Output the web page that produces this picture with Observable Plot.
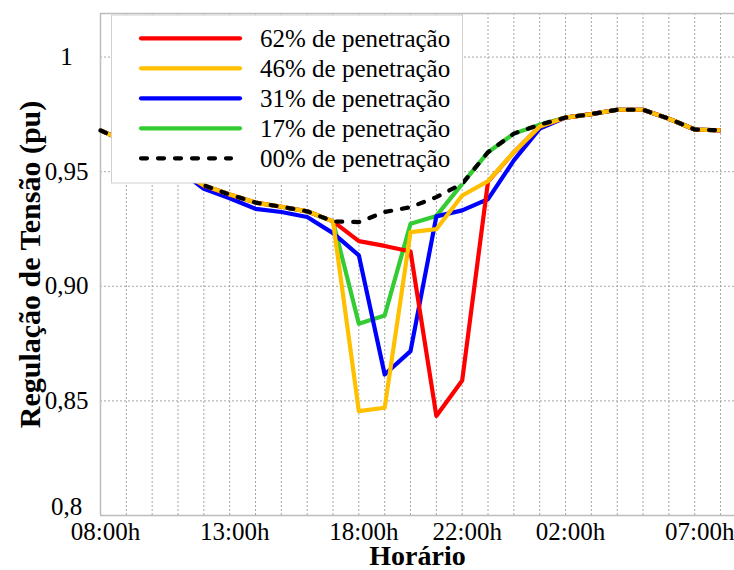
<!DOCTYPE html>
<html><head><meta charset="utf-8">
<script src="https://cdn.jsdelivr.net/npm/d3@7"></script>
<script src="https://cdn.jsdelivr.net/npm/@observablehq/plot@0.6"></script>
<style>
body{margin:0;background:#fff;}
#wrap{position:relative;width:734px;height:570px;overflow:hidden;}
#wrap svg, #wrap svg text{font-family:'Liberation Serif','DejaVu Serif',serif !important;}
#legend{position:absolute;left:0;top:0;}
</style></head><body><div id="wrap"></div>
<script>
// x index 0 = 08:00h, hourly, index 24 = 08:00h next day
const hours = d3.range(25);
const tickIndex = [0, 5, 10, 14, 18, 23];
const tickLabels = ["08:00h", "13:00h", "18:00h", "22:00h", "02:00h", "07:00h"];
const yTicks = [0.8, 0.85, 0.9, 0.95, 1];
const yTickLabels = ["0,8", "0,85", "0,90", "0,95", "1"];
const yDomain = [0.8, 1.019];
const xDomain = [0, 24.54];
const xTitle = "Horário";
const yTitle = "Regulação de Tensão (pu)";

const pen00 = [0.968, 0.963, 0.957, 0.951, 0.944, 0.940, 0.9365, 0.9347, 0.9327, 0.9283, 0.928, 0.9324, 0.9345, 0.9389, 0.9447, 0.9585, 0.9666, 0.9705, 0.9736, 0.9751, 0.977, 0.977, 0.9731, 0.9684, 0.968];
const pen17 = [0.968, 0.963, 0.957, 0.951, 0.944, 0.940, 0.9365, 0.9347, 0.9327, 0.9283, 0.8837, 0.8873, 0.9273, 0.9307, 0.9447, 0.9585, 0.9666, 0.9705, 0.9736, 0.9751, 0.977, 0.977, 0.9731, 0.9684, 0.968];
const pen31 = [0.968, 0.963, 0.957, 0.951, 0.9425, 0.9384, 0.9338, 0.9324, 0.9302, 0.9232, 0.9135, 0.8615, 0.8717, 0.9305, 0.9331, 0.938, 0.9549, 0.9688, 0.9736, 0.9751, 0.977, 0.977, 0.9731, 0.9684, 0.968];
const pen46 = [0.968, 0.963, 0.957, 0.951, 0.944, 0.940, 0.9365, 0.9347, 0.9327, 0.9283, 0.8455, 0.847, 0.9236, 0.9249, 0.9396, 0.9459, 0.9585, 0.9697, 0.9736, 0.9751, 0.977, 0.977, 0.9731, 0.9684, 0.968];
const pen62 = [0.968, 0.963, 0.957, 0.951, 0.944, 0.940, 0.9365, 0.9347, 0.9327, 0.9283, 0.9197, 0.9176, 0.9152, 0.8434, 0.8589, 0.9457, 0.9585, 0.9697, 0.9736, 0.9751, 0.977, 0.977, 0.9731, 0.9684, 0.968];

const seriesNames = ["62% de penetração", "46% de penetração", "31% de penetração", "17% de penetração", "00% de penetração"];
const seriesValues = [pen62, pen46, pen31, pen17, pen00];
const seriesColors = ["#ff0000", "#ffc000", "#0000ff", "#33cc33", "#000000"];
const drawOrder = [3, 2, 0, 1, 4];

const rows = [];
seriesValues.forEach((vals, s) => vals.forEach((v, i) => rows.push({i: hours[i], v, s})));

const FONT = "'Liberation Serif','DejaVu Serif',serif";
const gridStyle = {stroke: "#a6a6a6", strokeWidth: 1, strokeDasharray: "2,2"};
const borderStyle = {stroke: "#bdbdbd", strokeWidth: 1.5};
const yFmt = d => yTickLabels[yTicks.indexOf(d)];
const yAxisStyle = {tickFormat: yFmt, tickSize: 0, tickPadding: 34, textAnchor: "middle", fontSize: 25, label: null};

const lineMarks = drawOrder.map(s => Plot.line(rows.filter(r => r.s === s), {
  x: "i", y: "v", stroke: seriesColors[s], strokeWidth: 4.2,
  strokeLinejoin: "round",
  strokeLinecap: s === 4 ? "round" : "butt",
  strokeDasharray: s === 4 ? "6,11" : null
}));

const chart = Plot.plot({
  width: 734, height: 570,
  marginLeft: 100, marginRight: 0, marginTop: 13, marginBottom: 55,
  style: {fontFamily: FONT, background: "#fff", color: "#000"},
  x: {domain: xDomain},
  y: {domain: yDomain},
  marks: [
    Plot.ruleX(hours.slice(1), gridStyle),
    Plot.ruleY(yTicks.slice(1), gridStyle),
    Plot.ruleX([xDomain[0]], borderStyle),
    Plot.ruleY(yDomain, borderStyle),
    ...lineMarks,
    Plot.axisX(tickIndex, {tickFormat: d => tickLabels[tickIndex.indexOf(d)], tickSize: 0, tickPadding: 7, dx: 5, fontSize: 25, label: null}),
    Plot.axisY(yTicks.slice(1), yAxisStyle),
    Plot.axisY(yTicks.slice(0, 1), {...yAxisStyle, dy: -9}),
    Plot.text([xTitle], {frameAnchor: "bottom", dy: 41, lineAnchor: "middle", textAnchor: "middle", text: d => d, fontSize: 28, fontWeight: "bold", fill: "#000"}),
    Plot.text([yTitle], {frameAnchor: "left", rotate: -90, dx: -70, lineAnchor: "middle", textAnchor: "middle", text: d => d, fontSize: 30, fontWeight: "bold", fill: "#000"})
  ]
});
const wrap = document.getElementById("wrap");
wrap.appendChild(chart);

// legend overlay (upper left, inside the plot frame)
const lg = d3.select(wrap).append("svg").attr("id", "legend").attr("width", 734).attr("height", 570);
const box = {x: 111.5, y: 15, w: 351, h: 168};
lg.append("rect").attr("x", box.x).attr("y", box.y).attr("width", box.w).attr("height", box.h)
  .attr("fill", "#fff").attr("stroke", "#d0d0d0").attr("stroke-width", 1);
seriesNames.forEach((name, k) => {
  const cy = box.y + 23.3 + k * 30;
  const dashed = k === 4;
  lg.append("line").attr("x1", 141).attr("x2", dashed ? 231 : 240).attr("y1", cy).attr("y2", cy)
    .attr("stroke", seriesColors[k]).attr("stroke-width", 4.2).attr("stroke-linecap", "round")
    .attr("stroke-dasharray", dashed ? "6,11" : null);
  lg.append("text").attr("x", 260).attr("y", cy).attr("dy", "0.35em")
    .attr("font-family", "Liberation Serif").attr("font-size", 25).attr("fill", "#000").text(name);
});
</script>
</body></html>
